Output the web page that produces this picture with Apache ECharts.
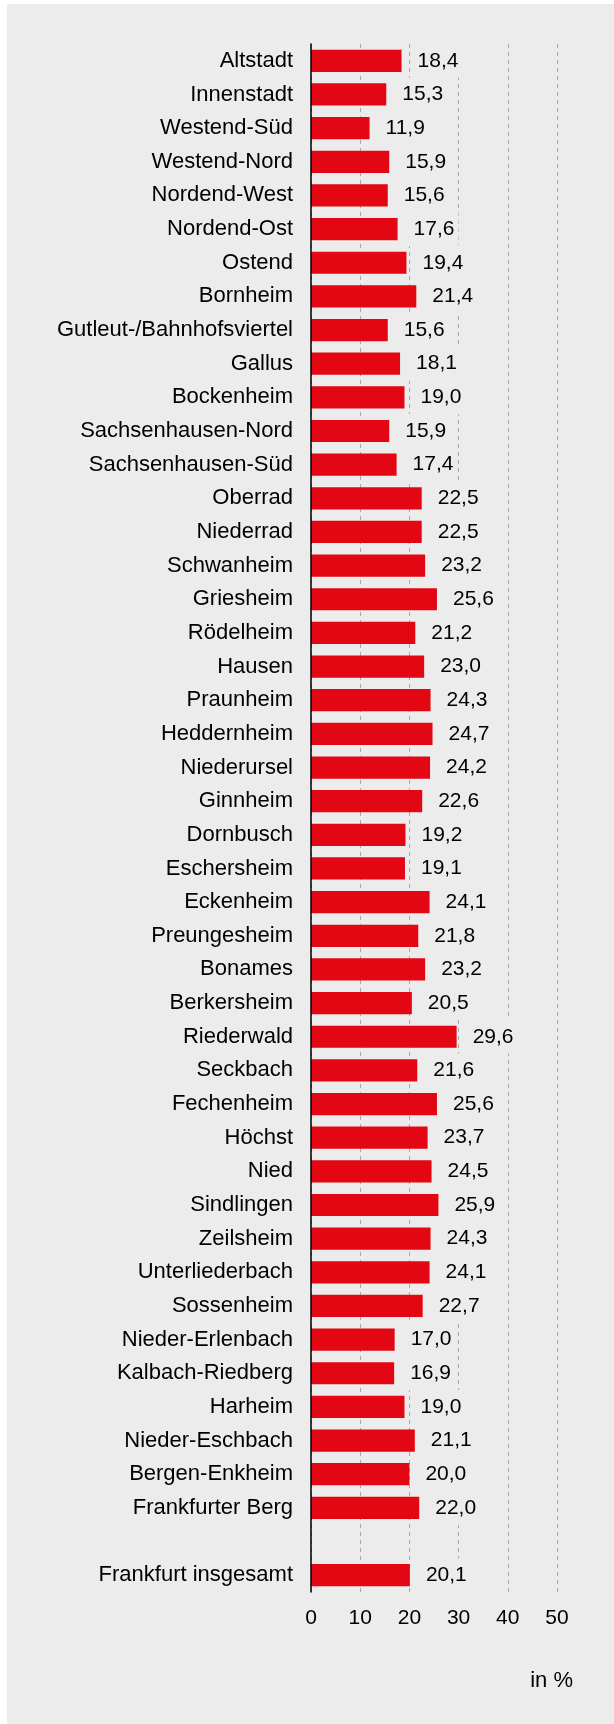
<!DOCTYPE html>
<html>
<head>
<meta charset="utf-8">
<script src="https://cdn.jsdelivr.net/npm/echarts@6/dist/echarts.min.js"></script>
<style>
  html, body { margin: 0; padding: 0; background: #ffffff; }
  #wrap { position: relative; width: 614px; height: 1724px; overflow: hidden; }
  #panel { position: absolute; left: 7px; top: 4px; width: 607px; height: 1720px; background: #ececec; }
  #chart { position: absolute; left: 0; top: 0; width: 614px; height: 1724px; }
</style>
</head>
<body>
<div id="wrap">
  <div id="panel"></div>
  <div id="chart"></div>
</div>
<script>
const categories = [
  'Altstadt', 'Innenstadt', 'Westend-Süd', 'Westend-Nord', 'Nordend-West', 'Nordend-Ost',
  'Ostend', 'Bornheim', 'Gutleut-/Bahnhofsviertel', 'Gallus', 'Bockenheim',
  'Sachsenhausen-Nord', 'Sachsenhausen-Süd', 'Oberrad', 'Niederrad', 'Schwanheim',
  'Griesheim', 'Rödelheim', 'Hausen', 'Praunheim', 'Heddernheim', 'Niederursel',
  'Ginnheim', 'Dornbusch', 'Eschersheim', 'Eckenheim', 'Preungesheim', 'Bonames',
  'Berkersheim', 'Riederwald', 'Seckbach', 'Fechenheim', 'Höchst', 'Nied',
  'Sindlingen', 'Zeilsheim', 'Unterliederbach', 'Sossenheim', 'Nieder-Erlenbach',
  'Kalbach-Riedberg', 'Harheim', 'Nieder-Eschbach', 'Bergen-Enkheim', 'Frankfurter Berg',
  '', 'Frankfurt insgesamt'
];
const values = [
  18.4, 15.3, 11.9, 15.9, 15.6, 17.6,
  19.4, 21.4, 15.6, 18.1, 19.0,
  15.9, 17.4, 22.5, 22.5, 23.2,
  25.6, 21.2, 23.0, 24.3, 24.7, 24.2,
  22.6, 19.2, 19.1, 24.1, 21.8, 23.2,
  20.5, 29.6, 21.6, 25.6, 23.7, 24.5,
  25.9, 24.3, 24.1, 22.7, 17.0,
  16.9, 19.0, 21.1, 20.0, 22.0,
  null, 20.1
];
const xTicks = [0, 10, 20, 30, 40, 50];
const unitLabel = 'in %';

const FONT = '"Liberation Sans", Arial, Helvetica, sans-serif';
const chart = echarts.init(document.getElementById('chart'), null, { renderer: 'canvas' });
chart.setOption({
  backgroundColor: 'transparent',
  animation: false,
  textStyle: { fontFamily: FONT },
  title: {
    text: unitLabel,
    right: 36,
    top: 1665,
    textStyle: { fontFamily: FONT, fontSize: 22, fontWeight: 'normal', color: '#000' }
  },
  grid: { left: 311, right: 57, top: 44, bottom: 132, containLabel: false },
  xAxis: {
    type: 'value',
    min: xTicks[0],
    max: xTicks[xTicks.length - 1],
    interval: 10,
    axisLine: { show: false },
    axisTick: { show: false },
    axisLabel: {
      margin: 16,
      fontSize: 21,
      color: '#000',
      fontFamily: FONT,
      formatter: v => String(v)
    },
    splitLine: {
      show: true,
      lineStyle: { color: '#a8a8a8', width: 1, type: [4, 4] }
    }
  },
  yAxis: {
    type: 'category',
    data: categories,
    inverse: true,
    z: 5,
    axisLine: { show: true, lineStyle: { color: '#000', width: 1.5 } },
    axisTick: { show: false },
    axisLabel: {
      margin: 18,
      fontSize: 22,
      color: '#000',
      fontFamily: FONT,
      interval: 0
    },
    splitLine: { show: false }
  },
  series: [{
    type: 'bar',
    data: values,
    barCategoryGap: '34%',
    itemStyle: { color: '#e30613' },
    label: {
      show: true,
      position: 'right',
      distance: 9,
      fontSize: 21,
      color: '#000',
      fontFamily: FONT,
      backgroundColor: '#ececec',
      lineHeight: 24,
      padding: [5, 4, 5, 7],
      formatter: p => (p.value == null ? '' : p.value.toFixed(1).replace('.', ','))
    }
  }]
});
</script>
</body>
</html>
